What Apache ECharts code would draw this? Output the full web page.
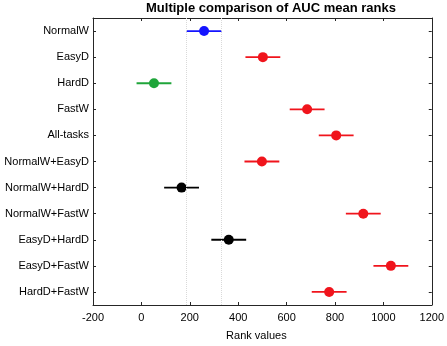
<!DOCTYPE html>
<html>
<head>
<meta charset="utf-8">
<script src="https://cdn.jsdelivr.net/npm/echarts@6/dist/echarts.min.js"></script>
<style>
  html, body { margin: 0; padding: 0; background: #fff; }
  #chart { width: 447px; height: 346px; }
</style>
</head>
<body>
<div id="chart"></div>
<script>
// 数据
const tasks = ['NormalW', 'EasyD', 'HardD', 'FastW', 'All-tasks', 'NormalW+EasyD',
    'NormalW+HardD', 'NormalW+FastW', 'EasyD+HardD', 'EasyD+FastW', 'HardD+FastW'];
const meanRanks = [259, 502, 52, 685, 805, 498, 166, 917, 361, 1031, 776];
const halfWidths = [72, 72, 72, 72, 72, 72, 72, 72, 72, 72, 72];
// ref = 选中组, higher/lower = 显著差异, same = 无显著差异
const groups = ['ref', 'higher', 'lower', 'higher', 'higher', 'higher',
    'same', 'higher', 'same', 'higher', 'higher'];
const xTicks = [-200, 1200, 200];

const groupColors = { ref: '#1414ff', higher: '#f0141c', lower: '#1fa53a', same: '#000000' };

const chart = echarts.init(document.getElementById('chart'));

const barData = tasks.map((t, i) => [meanRanks[i] - halfWidths[i], meanRanks[i] + halfWidths[i], i]);
const dotData = tasks.map((t, i) => ({
    value: [meanRanks[i], t],
    itemStyle: { color: groupColors[groups[i]], opacity: 1 }
}));
const refLo = meanRanks[0] - halfWidths[0];
const refHi = meanRanks[0] + halfWidths[0];

const font = 'Arial, "Liberation Sans", sans-serif';

const baseX = {
    type: 'value',
    min: xTicks[0],
    max: xTicks[1],
    interval: xTicks[2],
    splitLine: { show: false },
    axisLine: { show: true, onZero: false, lineStyle: { color: '#262626', width: 1 } },
    axisTick: { show: true, inside: true, length: 3, lineStyle: { color: '#262626' } }
};
const baseY = {
    type: 'category',
    data: tasks,
    inverse: true,
    splitLine: { show: false },
    axisLine: { show: true, onZero: false, lineStyle: { color: '#262626', width: 1 } },
    axisTick: { show: true, inside: true, length: 3, alignWithLabel: true, lineStyle: { color: '#262626' } }
};

chart.setOption({
    animation: false,
    title: {
        text: 'Multiple comparison of AUC mean ranks',
        left: 146,
        top: 2,
        padding: 0,
        textStyle: { fontFamily: font, fontSize: 13, fontWeight: 'bold', color: '#000' }
    },
    grid: { left: 93, right: 15, top: 18, bottom: 39, containLabel: false },
    xAxis: [
        Object.assign({}, baseX, {
            position: 'bottom',
            name: 'Rank values',
            nameLocation: 'middle',
            nameGap: 25,
            nameTextStyle: { fontFamily: font, fontSize: 11, color: '#000', padding: [0, 12, 0, 0] },
            axisLabel: { fontFamily: font, fontSize: 11, color: '#000', margin: 7, formatter: v => String(v) }
        }),
        Object.assign({}, baseX, { position: 'top', axisLabel: { show: false } })
    ],
    yAxis: [
        Object.assign({}, baseY, {
            position: 'left',
            axisLabel: { fontFamily: font, fontSize: 11, color: '#000', margin: 4 }
        }),
        Object.assign({}, baseY, { position: 'right', axisLabel: { show: false } })
    ],
    series: [
        {
            type: 'custom',
            xAxisIndex: 0,
            yAxisIndex: 0,
            data: barData,
            encode: { x: [0, 1], y: 2 },
            renderItem: function (params, api) {
                const idx = api.value(2);
                const p1 = api.coord([api.value(0), idx]);
                const p2 = api.coord([api.value(1), idx]);
                return {
                    type: 'line',
                    shape: { x1: p1[0], y1: p1[1], x2: p2[0], y2: p2[1] },
                    style: { stroke: groupColors[groups[idx]], lineWidth: 1.8, opacity: 1 }
                };
            },
            z: 2
        },
        {
            type: 'scatter',
            xAxisIndex: 0,
            yAxisIndex: 0,
            symbol: 'circle',
            symbolSize: 10,
            itemStyle: { opacity: 1 },
            data: dotData,
            z: 3,
            markLine: {
                silent: true,
                symbol: 'none',
                label: { show: false },
                lineStyle: { color: '#d9d9d9', type: 'dotted', width: 1 },
                data: [{ xAxis: refLo }, { xAxis: refHi }]
            }
        }
    ]
});
</script>
</body>
</html>
